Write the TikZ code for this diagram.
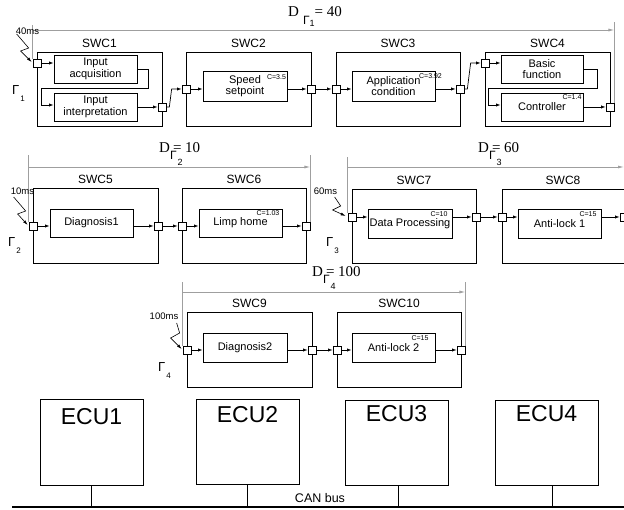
\documentclass[tikz,border=0pt]{standalone}
\usepackage{fontspec}
\setmainfont{Liberation Sans}
\newfontfamily\tnr{Liberation Serif}
\usetikzlibrary{arrows.meta,calc}
\tikzset{
  swc/.style={draw, line width=0.8pt, inner sep=0pt},
  fn/.style={draw, line width=0.8pt, inner sep=0pt, align=center, font=\fontsize{11}{11.5}\selectfont},
  port/.style={draw, fill=white, line width=0.7pt, minimum size=8pt, inner sep=0pt},
  swclbl/.style={anchor=base, inner sep=0pt, font=\fontsize{12}{12}\selectfont},
  clbl/.style={inner sep=0pt, font=\fontsize{7}{7}\selectfont},
  arr/.style={line width=0.7pt, -{Latex[length=4.5pt,width=3.2pt]}},
  zig/.style={line width=0.6pt, -{Latex[length=5pt,width=3pt]}},
  dim/.style={draw=gray!75, line width=0.8pt},
  dimarr/.style={dim, -{Latex[length=6pt,width=3pt]}},
  tlbl/.style={anchor=base, inner sep=0pt, font=\fontsize{9.5}{9.5}\selectfont},
  glbl/.style={anchor=base west, inner sep=0pt},
  ecu/.style={draw, line width=0.8pt, minimum width=103pt, minimum height=86pt, inner sep=0pt},
  eculbl/.style={anchor=base, inner sep=0pt, font=\fontsize{23}{23}\selectfont},
}
\newcommand\Dbig[1]{{\tnr\fontsize{15}{15}\selectfont #1}}
\newcommand\Gsub[1]{\rlap{\raisebox{-7pt}{\fontsize{12}{12}\selectfont Γ\kern1pt\raisebox{-6pt}{\fontsize{9}{9}\selectfont #1}}}}
\newcommand\Gside[1]{{\fontsize{13}{13}\selectfont Γ}\kern1pt\raisebox{-7pt}{\fontsize{8}{8}\selectfont #1}}
\begin{document}
\begin{tikzpicture}[x=1pt,y=-1pt]
\useasboundingbox (0,0) rectangle (624,510);

% ---------------- Row 1 ----------------
\node[swc, minimum width=125pt, minimum height=74pt] (s1) at (99.5,89) {};
\node[swc, minimum width=125pt, minimum height=74pt] (s2) at (248.5,89) {};
\node[swc, minimum width=124pt, minimum height=74pt] (s3) at (398,89) {};
\node[swc, minimum width=125pt, minimum height=74pt] (s4) at (547.5,89) {};
\node[swclbl] (s1l) at ($(s1.north)+(0,-4)$) {SWC1};
\node[swclbl] (s2l) at ($(s2.north)+(0,-4)$) {SWC2};
\node[swclbl] (s3l) at ($(s3.north)+(0,-4)$) {SWC3};
\node[swclbl] (s4l) at ($(s4.north)+(0,-4)$) {SWC4};

\node[fn, minimum width=83pt, minimum height=28pt] (ia) at (95.5,69) {Input\\acquisition};
\node[fn, minimum width=83pt, minimum height=28pt] (ii) at (95.5,107) {Input\\interpretation};
\node[fn, minimum width=84pt, minimum height=30pt] (sp) at (245,86) {Speed\\setpoint};
\node[fn, minimum width=83pt, minimum height=30pt] (ap) at (393.5,86) {Application\\condition};
\node[fn, minimum width=82pt, minimum height=28pt] (bf) at (542,69) {Basic\\function};
\node[fn, minimum width=82pt, minimum height=28pt] (ct) at (542,107) {\raisebox{-3pt}{Controller}};
\node[clbl] (c2) at (276.5,77.5) {C=3.5};
\node[clbl] (c3) at (430.5,76) {C=3.92};
\node[clbl] (c4) at (572,97) {C=1.4};

\node[port] (p1i) at (37,63) {};
\node[port] (p1o) at (162,107) {};
\node[port] (p2i) at (186,89) {};
\node[port] (p2o) at (311,89) {};
\node[port] (p3i) at (336,89) {};
\node[port] (p3o) at (460,89) {};
\node[port] (p4i) at (485,63) {};
\node[port] (p4o) at (610,107) {};

\draw[arr] (p1i.east) -- (p1i.east -| ia.west);
\draw[arr] (ia.east) -- ++(11,0) -- ++(0,19) -- ++(-107,0) -- ++(0,17) -- ($(ii.west)+(0,-2)$);
\draw[arr] (ii.east) -- (p1o.west);
\draw[arr] (p1o.east) -- ++(3,0) -- ($(p2i.west)+(-10,0)$) -- (p2i.west);
\draw[arr] (p2i.east) -- (p2i.east -| sp.west);
\draw[arr] (sp.east |- p2o) -- (p2o.west);
\draw[arr] (p2o.east) -- (p3i.west);
\draw[arr] (p3i.east) -- (p3i.east -| ap.west);
\draw[arr] (ap.east |- p3o) -- (p3o.west);
\draw[arr] (p3o.east) -- ++(3,0) -- ($(p4i.west)+(-10,0)$) -- (p4i.west);
\draw[arr] (p4i.east) -- (p4i.east -| bf.west);
\draw[arr] (bf.east) -- ++(14,0) -- ++(0,19) -- ++(-109,0) -- ++(0,17) -- ($(ct.west)+(0,-2)$);
\draw[arr] (ct.east) -- (p4o.west);

\coordinate (d1y) at (0,30);
\coordinate (t1y) at (0,25);
\coordinate (t1r) at (0,22);
\draw[dim] (p1i.north west) -- (p1i.west |- t1y);
\draw[dim] (p4o.north east) -- (p4o.east |- t1r);
\draw[dimarr] (p1i.west |- d1y) -- (p4o.east |- d1y);
\node[glbl] (D1) at (288,17) {\Dbig{D}\kern4pt\raisebox{-8pt}{\fontsize{12}{12}\selectfont Γ\raisebox{-2pt}{\fontsize{9}{9}\selectfont 1}}\Dbig{= 40}};

\node[tlbl] (t40) at (27.5,35) {40ms};
\draw[zig] ($(p1i.west)+(-16,-29)$) -- ++(12,14) -- ++(-8,3) -- ($(p1i.west)+(-1,-1)$);
\node[glbl] (G1) at (12,95) {\Gside{1}};

% ---------------- Row 2 left ----------------
\node[swc, minimum width=125pt, minimum height=75pt] (s5) at (95.5,225.5) {};
\node[swc, minimum width=124pt, minimum height=75pt] (s6) at (244,225.5) {};
\node[swclbl] (s5l) at ($(s5.north)+(0,-4)$) {SWC5};
\node[swclbl] (s6l) at ($(s6.north)+(0,-4)$) {SWC6};
\node[fn, minimum width=83pt, minimum height=28pt] (d1) at (91.5,223) {Diagnosis1};
\node[fn, minimum width=83pt, minimum height=28pt] (lh) at (240.5,223) {Limp home};
\node[clbl] (c6) at (268,213) {C=1.03};
\node[port] (p5i) at (33,226) {};
\node[port] (p5o) at (158,226) {};
\node[port] (p6i) at (182,226) {};
\node[port] (p6o) at (306,226) {};
\draw[arr] (p5i.east) -- (p5i.east -| d1.west);
\draw[arr] (d1.east |- p5o) -- (p5o.west);
\draw[arr] (p5o.east) -- (p6i.west);
\draw[arr] (p6i.east) -- (p6i.east -| lh.west);
\draw[arr] (lh.east |- p6o) -- (p6o.west);

\coordinate (d2y) at (0,167);
\coordinate (t2y) at (0,155);
\draw[dim] (p5i.north west) -- (p5i.west |- t2y);
\draw[dim] (p6o.north east) -- (p6o.east |- t2y);
\draw[dimarr] (p5i.west |- d2y) -- (p6o.east |- d2y);
\node[glbl] (D2) at (159,153) {\Dbig{D}\Gsub{2}\kern3pt\Dbig{= 10}};
\node[tlbl] (t10) at (22.5,195) {10ms};
\draw[zig] ($(p5i.west)+(-15,-29)$) -- ++(12,14) -- ++(-8,3) -- ($(p5i.west)+(-1,-1)$);
\node[glbl] (G2) at (8,247) {\Gside{2}};

% ---------------- Row 2 right ----------------
\node[swc, minimum width=124pt, minimum height=74pt] (s7) at (414,226) {};
\node[swc, minimum width=122pt, minimum height=74pt] (s8) at (563,226) {};
\node[swclbl] (s7l) at ($(s7.north)+(0,-4)$) {SWC7};
\node[swclbl] (s8l) at ($(s8.north)+(0,-4)$) {SWC8};
\node[fn, minimum width=84pt, minimum height=29pt] (dp) at (410,223.5) {\raisebox{-2pt}{Data Processing}};
\node[fn, minimum width=83pt, minimum height=29pt] (a1) at (559.5,223.5) {\raisebox{-2pt}{Anti-lock 1}};
\node[clbl] (c7) at (439,214) {C=10};
\node[clbl] (c8) at (588,214) {C=15};
\node[port] (p7i) at (352,217) {};
\node[port] (p7o) at (476,217) {};
\node[port] (p8i) at (502,217) {};
\node[port] (p8o) at (624,217) {};
\draw[arr] (p7i.east) -- (p7i.east -| dp.west);
\draw[arr] (dp.east |- p7o) -- (p7o.west);
\draw[arr] (p7o.east) -- (p8i.west);
\draw[arr] (p8i.east) -- (p8i.east -| a1.west);
\draw[arr] (a1.east |- p8o) -- (p8o.west);

\coordinate (t3y) at (0,157);
\draw[dim] (p7i.north west) -- (p7i.west |- t3y);
\draw[dimarr] (p7i.west |- d2y) -- (p8o |- d2y);
\node[glbl] (D3) at (478,153) {\Dbig{D}\Gsub{3}\kern3pt\Dbig{= 60}};
\node[tlbl] (t60) at (325.5,195) {60ms};
\draw[zig] ($(p7i.west)+(-13,-20)$) -- ++(6,9) -- ++(-8,4) -- ($(p7i.west)+(-2,-1)$);
\node[glbl] (G3) at (326,247) {\Gside{3}};

% ---------------- Row 3 ----------------
\node[swc, minimum width=125pt, minimum height=75pt] (s9) at (249.5,349.5) {};
\node[swc, minimum width=124pt, minimum height=75pt] (s10) at (399,349.5) {};
\node[swclbl] (s9l) at ($(s9.north)+(0,-4)$) {SWC9};
\node[swclbl] (s10l) at ($(s10.north)+(0,-4)$) {SWC10};
\node[fn, minimum width=84pt, minimum height=29pt] (d2) at (245,347.5) {Diagnosis2};
\node[fn, minimum width=83pt, minimum height=29pt] (a2) at (393.5,347.5) {\raisebox{-2pt}{Anti-lock 2}};
\node[clbl] (c10) at (420,338) {C=15};
\node[port] (p9i) at (187,350) {};
\node[port] (p9o) at (312,350) {};
\node[port] (p10i) at (337,350) {};
\node[port] (p10o) at (461,350) {};
\draw[arr] (p9i.east) -- (p9i.east -| d2.west);
\draw[arr] (d2.east |- p9o) -- (p9o.west);
\draw[arr] (p9o.east) -- (p10i.west);
\draw[arr] (p10i.east) -- (p10i.east -| a2.west);
\draw[arr] (a2.east |- p10o) -- (p10o.west);

\coordinate (d4y) at (0,292);
\coordinate (t4y) at (0,282);
\draw[dim] (p9i.north west) -- (p9i.west |- t4y);
\draw[dim] (p10o.north east) -- (p10o.east |- t4y);
\draw[dimarr] (p9i.west |- d4y) -- (p10o.east |- d4y);
\node[glbl] (D4) at (312,277) {\Dbig{D}\Gsub{4}\kern3pt\Dbig{= 100}};
\node[tlbl] (t100) at (164,320) {100ms};
\draw[zig] ($(p9i.west)+(-6,-27)$) -- ++(3,10) -- ++(-9,5) -- ($(p9i.west)+(-1,-1)$);
\node[glbl] (G4) at (158,372) {\Gside{4}};

% ---------------- ECUs and bus ----------------
\node[ecu] (e1) at (91.5,442) {};
\node[ecu, minimum height=85pt] (e2) at (247.5,441.5) {};
\node[ecu, minimum height=85pt] (e3) at (396.5,442.5) {};
\node[ecu, minimum height=85pt] (e4) at (546.5,442.5) {};
\node[eculbl] (e1l) at ($(e1.north)+(0,26)$) {ECU1};
\node[eculbl] (e2l) at ($(e2.north)+(0,24)$) {ECU2};
\node[eculbl] (e3l) at ($(e3.north)+(0,22)$) {ECU3};
\node[eculbl] (e4l) at ($(e4.north)+(0,22)$) {ECU4};
\coordinate (busL) at (12,507);
\coordinate (busR) at (624,507);
\draw[line width=2pt] (busL) -- (busR);
\draw[line width=0.8pt] (e1.south) -- (e1.south |- busL);
\draw[line width=0.8pt] (e2.south) -- (e2.south |- busL);
\draw[line width=0.8pt] ($(e3.south)+(1.5,0)$) -- ($(e3.south |- busL)+(1.5,0)$);
\draw[line width=0.8pt] ($(e4.south)+(5.5,0)$) -- ($(e4.south |- busL)+(5.5,0)$);
\node[anchor=base, inner sep=0pt, font=\fontsize{12.5}{12.5}\selectfont] (can) at (320,502) {CAN bus};
\end{tikzpicture}
\end{document}
